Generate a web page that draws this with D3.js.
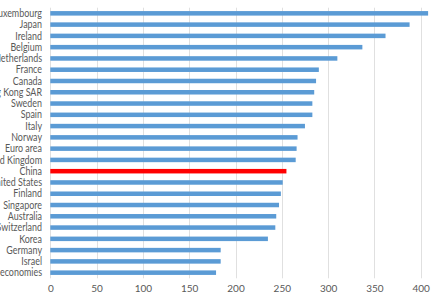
<!DOCTYPE html>
<html>
<head>
<meta charset="utf-8">
<script src="https://cdn.jsdelivr.net/npm/d3@7"></script>
<style>
  body { margin: 0; background: #fff; }
  text { font-family: Lato, sans-serif; fill: #595959; }
</style>
</head>
<body>
<script>
// countries top to bottom
const countries = ["Luxembourg", "Japan", "Ireland", "Belgium", "Netherlands", "France", "Canada",
  "Hong Kong SAR", "Sweden", "Spain", "Italy", "Norway", "Euro area", "United Kingdom", "China",
  "United States", "Finland", "Singapore", "Australia", "Switzerland", "Korea", "Germany", "Israel",
  "Emerging economies"];
const values = [408, 388, 362, 337, 310, 290, 287, 285, 283, 283, 275, 267, 266, 265, 255,
  251, 249, 247, 244, 243, 235, 184, 184, 179];
const highlight = "China";
const xTicks = [0, 50, 100, 150, 200, 250, 300, 350, 400];

const W = 440, H = 300;

const svg = d3.select("body").append("svg")
    .attr("width", W)
    .attr("height", H);

let x = d3.scaleLinear().domain([0, 400]).range([50.3, 420.7]);
let y = d3.scaleBand().domain(countries).range([7.7, 278.3])
    .paddingInner(0.6).paddingOuter(0.3);

// gridlines
svg.selectAll(".grid")
    .data(xTicks)
    .enter()
    .append("line")
    .attr("class", "grid")
    .attr("x1", d => Math.round(x(d)) + 0.5)
    .attr("x2", d => Math.round(x(d)) + 0.5)
    .attr("y1", 7.7)
    .attr("y2", 278.3)
    .attr("stroke", "#e0e0e0")
    .attr("stroke-width", 1);

// bars
svg.selectAll(".bar")
    .data(countries)
    .enter()
    .append("rect")
    .attr("class", "bar")
    .attr("x", x(0))
    .attr("y", d => y(d))
    .attr("width", (d, i) => x(values[i]) - x(0))
    .attr("height", y.bandwidth())
    .attr("fill", d => d === highlight ? "#ff0000" : "#5b9bd5");

// category labels (cut off at left edge like the source), squeezed to mimic a narrow font
svg.selectAll(".cat")
    .data(countries)
    .enter()
    .append("text")
    .attr("class", "cat")
    .attr("transform", d => `translate(42,${y(d) + y.bandwidth() / 2}) scale(0.85,1)`)
    .attr("dy", "0.35em")
    .attr("text-anchor", "end")
    .attr("font-size", 10.5)
    .text(d => d);

// x axis labels
let xAxis = d3.axisBottom(x).tickValues(xTicks).tickSize(0).tickPadding(0);
let gx = svg.append("g")
    .attr("transform", "translate(0,285)")
    .call(xAxis);
gx.select(".domain").remove();
gx.selectAll("text")
    .attr("font-family", "Lato, sans-serif")
    .attr("font-size", 10)
    .attr("fill", "#595959");
</script>
</body>
</html>
